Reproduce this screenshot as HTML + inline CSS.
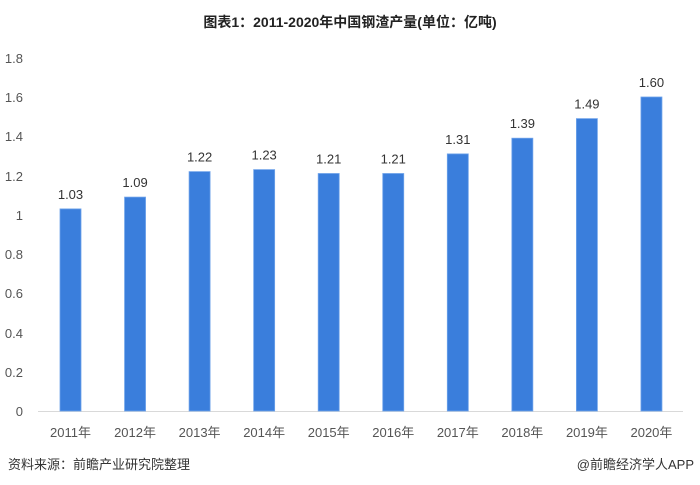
<!DOCTYPE html><html><head><meta charset="utf-8"><style>body{margin:0;background:#fff}svg{display:block}text{font-family:"Liberation Sans","Noto Sans CJK SC",sans-serif}</style></head><body>
<svg width="700" height="485" viewBox="0 0 700 485">
<text x="350" y="27" text-anchor="middle" font-size="14" font-weight="bold" fill="#222">图表1：2011-2020年中国钢渣产量(单位：亿吨)</text>
<g font-size="13" fill="#555" text-anchor="end">
<text x="23" y="416">0</text><text x="23" y="377">0.2</text><text x="23" y="338">0.4</text><text x="23" y="298">0.6</text><text x="23" y="259">0.8</text><text x="23" y="220">1</text><text x="23" y="181">1.2</text><text x="23" y="141">1.4</text><text x="23" y="102">1.6</text><text x="23" y="63">1.8</text>
</g>
<line x1="38" y1="411.5" x2="683" y2="411.5" stroke="#d9d9d9" stroke-width="1"/>
<g fill="#3a7edc" stroke="#6fa3ea" stroke-width="0.8">
<rect x="60" y="208.9" width="21" height="202.1"/>
<rect x="124.55" y="197.1" width="21" height="213.9"/>
<rect x="189.1" y="171.6" width="21" height="239.4"/>
<rect x="253.65" y="169.6" width="21" height="241.4"/>
<rect x="318.2" y="173.5" width="21" height="237.5"/>
<rect x="382.75" y="173.5" width="21" height="237.5"/>
<rect x="447.3" y="153.9" width="21" height="257.1"/>
<rect x="511.85" y="138.2" width="21" height="272.8"/>
<rect x="576.4" y="118.6" width="21" height="292.4"/>
<rect x="640.95" y="97" width="21" height="314"/>
</g>
<g font-size="13" fill="#333" text-anchor="middle">
<text x="70.5" y="198.9">1.03</text>
<text x="135.05" y="187.1">1.09</text>
<text x="199.6" y="161.6">1.22</text>
<text x="264.15" y="159.6">1.23</text>
<text x="328.7" y="163.5">1.21</text>
<text x="393.25" y="163.5">1.21</text>
<text x="457.8" y="143.9">1.31</text>
<text x="522.35" y="128.2">1.39</text>
<text x="586.9" y="108.6">1.49</text>
<text x="651.45" y="87">1.60</text>
</g>
<g font-size="13" fill="#555" text-anchor="middle">
<text x="70.5" y="437">2011年</text>
<text x="135.05" y="437">2012年</text>
<text x="199.6" y="437">2013年</text>
<text x="264.15" y="437">2014年</text>
<text x="328.7" y="437">2015年</text>
<text x="393.25" y="437">2016年</text>
<text x="457.8" y="437">2017年</text>
<text x="522.35" y="437">2018年</text>
<text x="586.9" y="437">2019年</text>
<text x="651.45" y="437">2020年</text>
</g>
<text x="8" y="469" font-size="13" fill="#333">资料来源：前瞻产业研究院整理</text>
<text x="694" y="469" text-anchor="end" font-size="13" fill="#333">@前瞻经济学人APP</text>
</svg></body></html>
